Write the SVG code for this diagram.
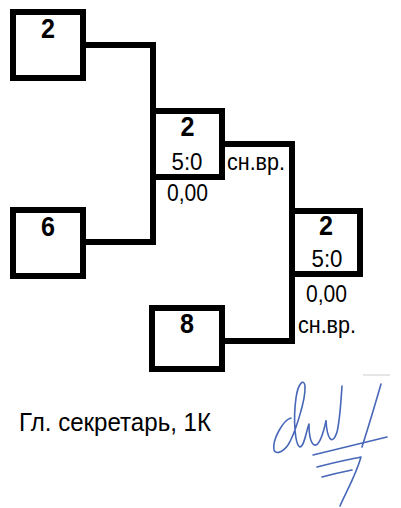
<svg xmlns="http://www.w3.org/2000/svg" width="401" height="508" viewBox="0 0 401 508">
<style>
.box{fill:#fff;stroke:#000;stroke-width:6}
.ln{fill:none;stroke:#000;stroke-width:6}
.num{font-family:"Liberation Sans",Arial,sans-serif;font-weight:bold;font-size:27px;text-anchor:middle;fill:#000}
.t{font-family:"Liberation Sans",Arial,sans-serif;font-size:23px;fill:#000}
.c{text-anchor:middle}
.sig{fill:none;stroke:#4767b8;stroke-width:1.6;stroke-linecap:round;stroke-linejoin:round}
</style>
<rect width="401" height="508" fill="#fff"/>
<g id="connectors">
<path class="ln" d="M83,45 H153 V242 H83"/>
<path class="ln" d="M222,144 H292 V341 H222"/>
</g>
<g id="n1"><rect class="box" x="13" y="12" width="70" height="66"/><text class="num" x="48" y="38" textLength="14" lengthAdjust="spacingAndGlyphs">2</text></g>
<g id="n2"><rect class="box" x="153" y="111" width="69" height="66"/><text class="num" x="187.5" y="136" textLength="14" lengthAdjust="spacingAndGlyphs">2</text><text class="t c" x="187" y="170" textLength="31" lengthAdjust="spacingAndGlyphs">5:0</text></g>
<g id="n2lab"><text class="t" x="227" y="170" textLength="58" lengthAdjust="spacingAndGlyphs">сн.вр.</text><text class="t" x="167" y="201" textLength="41" lengthAdjust="spacingAndGlyphs">0,00</text></g>
<g id="n3"><rect class="box" x="13" y="210" width="70" height="66"/><text class="num" x="48" y="236" textLength="14" lengthAdjust="spacingAndGlyphs">6</text></g>
<g id="n4"><rect class="box" x="292" y="211" width="68" height="63"/><text class="num" x="326" y="235" textLength="14" lengthAdjust="spacingAndGlyphs">2</text><text class="t c" x="327" y="267" textLength="31" lengthAdjust="spacingAndGlyphs">5:0</text></g>
<g id="n4lab"><text class="t" x="306" y="302" textLength="41" lengthAdjust="spacingAndGlyphs">0,00</text><text class="t" x="298" y="333" textLength="58" lengthAdjust="spacingAndGlyphs">сн.вр.</text></g>
<g id="n5"><rect class="box" x="152" y="308" width="70" height="61"/><text class="num" x="187" y="333" textLength="14" lengthAdjust="spacingAndGlyphs">8</text></g>
<text class="t" x="19" y="431" style="font-size:26px" textLength="192" lengthAdjust="spacingAndGlyphs">Гл. секретарь, 1К</text>
<line x1="363" y1="375" x2="390" y2="375" stroke="#ccc" stroke-width="1"/>
<g id="signature">
<path class="sig" d="M291,418 C283,420 272,440 274,450 C276,455 283,452 288,445 C294,436 306,400 305,386 C304,378 298,383 296,398 C293,420 295,445 300,447 C304,447 306,432 309,424 C309,436 311,446 316,445 C321,443 324,430 326,421"/>
<path class="sig" d="M326,421 C327,438 332,447 337,432 C340,420 341,400 342,386"/>
<path class="sig" d="M381,384 C375,405 368,428 362,447"/>
<path class="sig" d="M313,455 C338,449 363,443 387,437"/>
<path class="sig" d="M317,467 C332,463 347,460 361,457 C356,475 346,492 340,506"/>
<path class="sig" d="M322,477 C333,474 342,472 352,470"/>
</g>
</svg>
